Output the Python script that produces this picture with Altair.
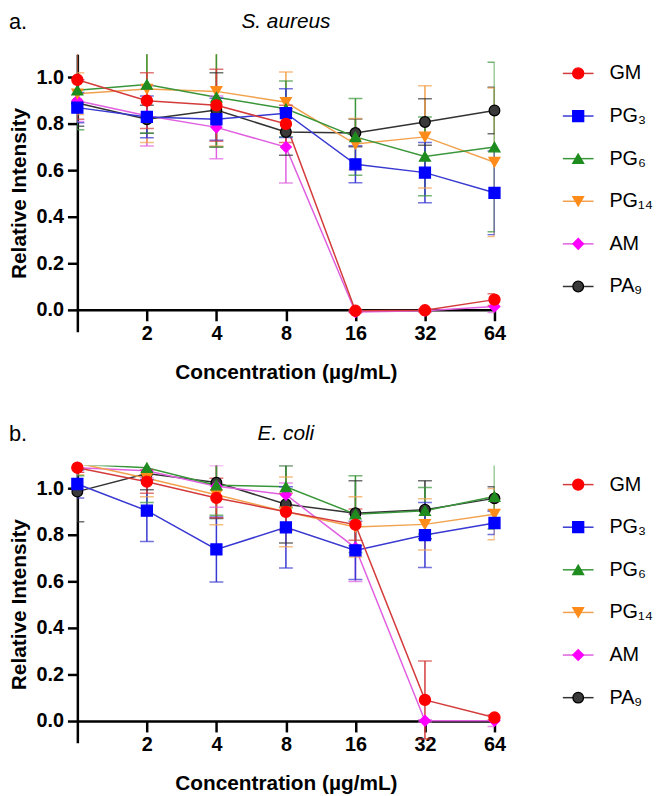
import altair as alt
import pandas as pd

CONC = [1, 2, 4, 8, 16, 32, 64]
X_TICKS = [2, 4, 8, 16, 32, 64]
Y_TICKS = [0.0, 0.2, 0.4, 0.6, 0.8, 1.0]
SERIES = ["GM", "PG3", "PG6", "PG14", "AM", "PA9"]
LABELS = ["GM", "PG₃", "PG₆", "PG₁₄", "AM", "PA₉"]
DRAW_ORDER = ["PA9", "AM", "PG14", "PG6", "PG3", "GM"]
MARKER_COLORS = ["#ff0000", "#0000ff", "#1e8c1e", "#ff8c1a", "#ff00ff", "#3a3a3a"]
MARKER_STROKES = ["#ff0000", "#0000ff", "#1e8c1e", "#ff8c1a", "#ff00ff", "#000000"]
LINE_COLORS = ["#d43c3c", "#3838d2", "#3a963a", "#f2a24e", "#e060e0", "#333333"]
SHAPES = ["circle", "square", "triangle-up", "triangle-down", "diamond", "circle"]
SIZES = [125, 115, 100, 100, 60, 135]

# a. S. aureus
SA_GM = [0.99, 0.90, 0.88, 0.80, -0.005, -0.003, 0.043]
SA_GM_SD = [0.17, 0.12, 0.155, 0.08, 0.005, 0.005, 0.025]
SA_PG3 = [0.87, 0.83, 0.82, 0.846, 0.626, 0.59, 0.503]
SA_PG3_SD = [0.065, 0.09, 0.09, 0.105, 0.08, 0.13, 0.18]
SA_PG6 = [0.945, 0.97, 0.915, 0.865, 0.744, 0.66, 0.70]
SA_PG6_SD = [0.17, 0.21, 0.215, 0.12, 0.165, 0.17, 0.365]
SA_PG14 = [0.93, 0.95, 0.94, 0.893, 0.713, 0.744, 0.635]
SA_PG14_SD = [0.09, 0.23, 0.235, 0.13, 0.11, 0.22, 0.32]
SA_AM = [0.90, 0.835, 0.785, 0.70, -0.01, -0.005, 0.013]
SA_AM_SD = [0.09, 0.13, 0.135, 0.155, 0.005, 0.005, 0.025]
SA_PA9 = [0.89, 0.82, 0.86, 0.765, 0.761, 0.808, 0.858]
SA_PA9_SD = [0.10, 0.06, 0.16, 0.10, 0.06, 0.10, 0.10]

# b. E. coli
EC_GM = [1.09, 1.03, 0.96, 0.90, 0.845, 0.09, 0.014]
EC_GM_SD = [0.02, 0.05, 0.085, 0.08, 0.067, 0.168, 0.01]
EC_PG3 = [1.02, 0.905, 0.738, 0.833, 0.734, 0.80, 0.852]
EC_PG3_SD = [0.06, 0.133, 0.14, 0.175, 0.125, 0.14, 0.05]
EC_PG6 = [1.105, 1.09, 1.015, 1.008, 0.89, 0.905, 0.966]
EC_PG6_SD = [0.05, 0.15, 0.13, 0.09, 0.165, 0.10, 0.14]
EC_PG14 = [1.11, 1.045, 0.974, 0.90, 0.835, 0.846, 0.89]
EC_PG14_SD = [0.05, 0.08, 0.13, 0.15, 0.13, 0.11, 0.11]
EC_AM = [1.09, 1.077, 1.01, 0.974, 0.745, 0.0, 0.0]
EC_AM_SD = [0.02, 0.03, 0.09, 0.05, 0.145, 0.005, 0.025]
EC_PA9 = [0.987, 1.065, 1.026, 0.933, 0.894, 0.909, 0.958]
EC_PA9_SD = [0.13, 0.07, 0.155, 0.167, 0.14, 0.125, 0.05]

SA = {"GM": (SA_GM, SA_GM_SD), "PG3": (SA_PG3, SA_PG3_SD), "PG6": (SA_PG6, SA_PG6_SD),
      "PG14": (SA_PG14, SA_PG14_SD), "AM": (SA_AM, SA_AM_SD), "PA9": (SA_PA9, SA_PA9_SD)}
EC = {"GM": (EC_GM, EC_GM_SD), "PG3": (EC_PG3, EC_PG3_SD), "PG6": (EC_PG6, EC_PG6_SD),
      "PG14": (EC_PG14, EC_PG14_SD), "AM": (EC_AM, EC_AM_SD), "PA9": (EC_PA9, EC_PA9_SD)}

Y_MIN, Y_MAX = -0.095, 1.1
PLOT_W, PLOT_H = 421, 280
X_OFFSET = -round(PLOT_H * (0 - Y_MIN) / (Y_MAX - Y_MIN))


def make_df(d):
    rows = []
    for s in DRAW_ORDER:
        vals, sds = d[s]
        for c, v, e in zip(CONC, vals, sds):
            rows.append({"series": s, "conc": c, "value": v, "lo": v - e, "hi": v + e})
    return pd.DataFrame(rows)


def X(field):
    return alt.X(f"{field}:Q",
                 scale=alt.Scale(type="log", base=2, domain=[1, 64], nice=False),
                 axis=alt.Axis(values=X_TICKS, format="d", title="Concentration (µg/mL)",
                               offset=X_OFFSET, tickSize=11, labelPadding=3, titlePadding=18,
                               labelFlush=False))


def Y(field):
    return alt.Y(f"{field}:Q",
                 scale=alt.Scale(domain=[Y_MIN, Y_MAX], nice=False, zero=False),
                 axis=alt.Axis(values=Y_TICKS, format=".1f", title="Relative Intensity",
                               tickSize=10, labelPadding=4, titlePadding=7))


line_color = alt.Color("series:N", scale=alt.Scale(domain=SERIES, range=LINE_COLORS), legend=None)
fill_enc = alt.Fill("series:N", scale=alt.Scale(domain=SERIES, range=MARKER_COLORS), legend=None)
stroke_enc = alt.Stroke("series:N", scale=alt.Scale(domain=SERIES, range=MARKER_STROKES), legend=None)
shape_enc = alt.Shape("series:N", scale=alt.Scale(domain=SERIES, range=SHAPES), legend=None)
size_enc = alt.Size("series:N", scale=alt.Scale(domain=SERIES, range=SIZES), legend=None)


def panel(d, title, letter):
    df = make_df(d)
    base = alt.Chart(df)
    lines = base.mark_line(strokeWidth=1.5, clip=True).encode(
        x=X("conc"), y=Y("value"), color=line_color, detail="series:N")
    bars = base.mark_rule(strokeWidth=1.5, clip=True).encode(
        x=X("conc"), y=Y("lo"), y2="hi:Q", color=line_color)
    caps = base.transform_fold(["lo", "hi"], as_=["end", "endval"]).mark_tick(
        orient="horizontal", size=14, thickness=1.5, clip=True).encode(
        x=X("conc"), y=Y("endval"), color=line_color)
    pts = base.transform_filter(f"datum.value <= {Y_MAX}").mark_point(
        filled=True, opacity=1, strokeWidth=1.3).encode(
        x=X("conc"), y=Y("value"), fill=fill_enc, stroke=stroke_enc, shape=shape_enc, size=size_enc)
    lab = alt.Chart(pd.DataFrame({"t": [letter]})).mark_text(
        fontSize=22, align="left", baseline="middle", color="black").encode(
        text="t:N", x=alt.value(-69), y=alt.value(-32))
    ttl = alt.Chart(pd.DataFrame({"t": [title]})).mark_text(
        fontSize=21, fontStyle="italic", align="center", baseline="middle", color="black").encode(
        text="t:N", x=alt.value(PLOT_W / 2), y=alt.value(-32))
    p = alt.layer(lines, bars, caps, pts, lab, ttl).properties(width=PLOT_W, height=PLOT_H)

    leg_df = pd.DataFrame({"series": SERIES, "label": LABELS, "idx": list(range(len(SERIES)))})
    ly = alt.Y("idx:Q", scale=alt.Scale(domain=[-0.45, 6.06], reverse=True, nice=False, zero=False), axis=None)
    lb = alt.Chart(leg_df)
    lrule = lb.mark_rule(strokeWidth=1.5).encode(x=alt.value(57), x2=alt.value(88), y=ly, color=line_color)
    lpts = lb.mark_point(filled=True, opacity=1, strokeWidth=1.3).encode(
        x=alt.value(72.5), y=ly, fill=fill_enc, stroke=stroke_enc, shape=shape_enc, size=size_enc)
    ltxt = lb.mark_text(align="left", baseline="middle", fontSize=20, color="black").encode(
        x=alt.value(104), y=ly, text="label:N")
    leg = alt.layer(lrule, lpts, ltxt).properties(width=135, height=PLOT_H)
    return alt.hconcat(p, leg, spacing=0).resolve_scale(y="independent", x="independent")


chart = alt.vconcat(
    panel(SA, "S. aureus", "a."),
    panel(EC, "E. coli", "b."),
    spacing=41,
).properties(
    padding={"left": 0, "top": 0, "right": 0, "bottom": 0}
).configure(
    font="Liberation Sans"
).configure_view(
    stroke=None
).configure_axis(
    grid=False, domainColor="black", domainWidth=2.5, tickColor="black", tickWidth=2.5,
    labelFontSize=20, labelFontWeight="bold", labelColor="black",
    titleFontSize=21, titleFontWeight="bold", titleColor="black"
)

chart.save("out.html", embed_options={"renderer": "svg", "actions": False})
